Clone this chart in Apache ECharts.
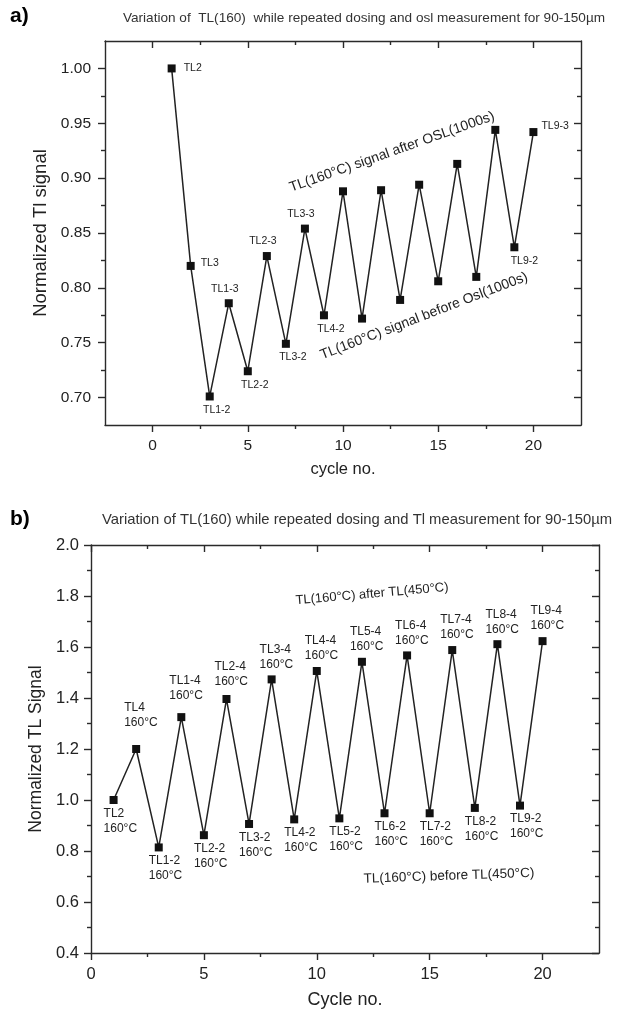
<!DOCTYPE html>
<html>
<head>
<meta charset="utf-8">
<script src="https://cdn.jsdelivr.net/npm/echarts@6/dist/echarts.min.js"></script>
<style>
html,body{margin:0;padding:0;background:#fff;}
#chart{width:638px;height:1013px;}
</style>
</head>
<body>
<div id="chart"></div>
<script>
// ---------- data ----------
const cycles = [1,2,3,4,5,6,7,8,9,10,11,12,13,14,15,16,17,18,19,20];

// panel a) Normalized Tl signal (OSL)
const signalA = [1.000,0.820,0.701,0.786,0.724,0.829,0.749,0.854,0.775,0.888,
                 0.772,0.889,0.789,0.894,0.806,0.913,0.810,0.944,0.837,0.942];
const pointLabelsA = ['TL2','TL3','TL1-2','TL1-3','TL2-2','TL2-3','TL3-2','TL3-3','TL4-2','',
                      '','','','','','','','','TL9-2','TL9-3'];
const xTicksA = [0,5,10,15,20];
const xMinorA = [2.5,7.5,12.5,17.5];
const yTicksA = [0.70,0.75,0.80,0.85,0.90,0.95,1.00];
const yMinorA = [0.725,0.775,0.825,0.875,0.925,0.975];

// panel b) Normalized TL signal (TL 450)
const signalB = [1.000,1.200,0.814,1.325,0.862,1.396,0.906,1.473,0.924,1.506,
                 0.928,1.542,0.948,1.567,0.948,1.588,0.969,1.611,0.978,1.623];
const pointLabelsB = ['TL2','TL4','TL1-2','TL1-4','TL2-2','TL2-4','TL3-2','TL3-4','TL4-2','TL4-4',
                      'TL5-2','TL5-4','TL6-2','TL6-4','TL7-2','TL7-4','TL8-2','TL8-4','TL9-2','TL9-4'];
const tempLabelB = '160°C';
const xTicksB = [0,5,10,15,20];
const xMinorB = [2.5,7.5,12.5,17.5];
const yTicksB = [0.4,0.6,0.8,1.0,1.2,1.4,1.6,1.8,2.0];
const yMinorB = [0.5,0.7,0.9,1.1,1.3,1.5,1.7,1.9];

const titleA = 'Variation of  TL(160)  while repeated dosing and osl measurement for 90-150µm';
const titleB = 'Variation of TL(160) while repeated dosing and Tl measurement for 90-150µm';

// ---------- styling helpers ----------
const FONT = 'Liberation Sans, Arial, sans-serif';
const AX = '#2a2a2a';

function axisGroup(gi, min, max, majors, minors, pos, mirror, fmt, labelSize, margin, name, nameGap, nameSize) {
  const line = {lineStyle:{color:AX, width:1.4}};
  const base = {type:'value', gridIndex:gi, min:min, max:max, splitLine:{show:false}};
  const main = Object.assign({}, base, {
    position:pos,
    axisLine:Object.assign({show:true, onZero:false}, line),
    axisTick:Object.assign({show:true, inside:false, length:7, customValues:majors}, line),
    axisLabel:{show:true, customValues:majors, formatter:fmt, fontSize:labelSize, color:'#222', fontFamily:FONT, margin:margin},
    name:name, nameLocation:'middle', nameGap:nameGap,
    nameTextStyle:{fontSize:nameSize, color:'#222', fontFamily:FONT}
  });
  const minor = Object.assign({}, base, {
    position:pos,
    axisLine:{show:false, onZero:false},
    axisTick:Object.assign({show:true, inside:false, length:4, customValues:minors}, line),
    axisLabel:{show:false}
  });
  const mMain = Object.assign({}, base, {
    position:mirror,
    axisLine:Object.assign({show:true, onZero:false}, line),
    axisTick:Object.assign({show:true, inside:true, length:7, customValues:majors}, line),
    axisLabel:{show:false}
  });
  const mMinor = Object.assign({}, base, {
    position:mirror,
    axisLine:{show:false, onZero:false},
    axisTick:Object.assign({show:true, inside:true, length:4, customValues:minors}, line),
    axisLabel:{show:false}
  });
  return [main, minor, mMain, mMinor];
}

// label placement for panel a
function labelA(i) {
  const base = {show:true, fontSize:10.5, color:'#222', fontFamily:FONT};
  if (i === 0) return Object.assign(base, {position:'right', distance:8});
  if (i === 1) return Object.assign(base, {position:'right', distance:6, offset:[0,-3]});
  if (i === 19) return Object.assign(base, {position:'right', distance:4, offset:[0,-6]});
  if (i === 18) return Object.assign(base, {position:'bottom', distance:4, offset:[10,0]});
  if (i % 2 === 0) return Object.assign(base, {position:'bottom', distance:4, offset:[7,0]});
  return Object.assign(base, {position:'top', distance:5, offset:[-4,0]});
}
// label placement for panel b
function labelB(i) {
  const base = {show:true, fontSize:12, lineHeight:15, color:'#222', fontFamily:FONT, align:'left'};
  if (i % 2 === 0) return Object.assign(base, {position:'bottom', distance:2, offset:[-10,0]});
  const lift = Math.max(3.5, 17 - 2.2 * i);
  return Object.assign(base, {position:'top', distance:lift, offset:[-12,0]});
}

const xA = axisGroup(0, -2.5, 22.5, xTicksA, xMinorA, 'bottom', 'top', v => String(v), 15.5, 13, 'cycle no.', 36, 16.5);
const yA = axisGroup(0, 0.675, 1.025, yTicksA, yMinorA, 'left', 'right', v => v.toFixed(2), 15.5, 14, 'Normalized Tl signal', 53, 18.5);
const xB = axisGroup(1, 0, 22.5, xTicksB, xMinorB, 'bottom', 'top', v => String(v), 16.5, 13, 'Cycle no.', 38, 18);
const yB = axisGroup(1, 0.4, 2.0, yTicksB, yMinorB, 'left', 'right', v => v.toFixed(1), 16.5, 12, 'Normalized TL Signal', 27, 17.5);

const seriesStyle = {
  type:'line', symbol:'rect', symbolSize:8, showSymbol:true,
  itemStyle:{color:'#111'}, lineStyle:{color:'#222', width:1.5}, animation:false, z:3
};

const option = {
  backgroundColor:'#fff',
  animation:false,
  grid:[
    {left:105, top:41, width:476, height:384},
    {left:91, top:545, width:508, height:408}
  ],
  xAxis: xA.concat(xB),
  yAxis: yA.concat(yB),
  series:[
    Object.assign({}, seriesStyle, {
      xAxisIndex:0, yAxisIndex:0,
      data: cycles.map((c,i) => ({value:[c, signalA[i]], label:Object.assign(labelA(i), {formatter: pointLabelsA[i]})}))
    }),
    Object.assign({}, seriesStyle, {
      xAxisIndex:4, yAxisIndex:4,
      data: cycles.map((c,i) => ({value:[c, signalB[i]], label:Object.assign(labelB(i), {formatter: pointLabelsB[i] + '\n' + tempLabelB})}))
    })
  ],
  graphic:[
    {type:'text', left:10, top:6, style:{text:'a)', font:'bold 21px ' + FONT, fill:'#000'}},
    {type:'text', x:364, y:18, style:{text:titleA, fontSize:13.6, fontFamily:FONT, fill:'#333', align:'center', verticalAlign:'middle'}},
    {type:'text', x:392, y:152, rotation:19.5*Math.PI/180, style:{text:'TL(160°C) signal after OSL(1000s)', fontSize:14, fontFamily:FONT, fill:'#222', align:'center', verticalAlign:'middle'}},
    {type:'text', x:424, y:316, rotation:21*Math.PI/180, style:{text:'TL(160°C) signal before Osl(1000s)', fontSize:14, fontFamily:FONT, fill:'#222', align:'center', verticalAlign:'middle'}},
    {type:'text', left:10, top:509, style:{text:'b)', font:'bold 21px ' + FONT, fill:'#000'}},
    {type:'text', x:357, y:520, style:{text:titleB, fontSize:14.8, fontFamily:FONT, fill:'#333', align:'center', verticalAlign:'middle'}},
    {type:'text', x:372, y:594, rotation:5*Math.PI/180, style:{text:'TL(160°C) after TL(450°C)', fontSize:13, fontFamily:FONT, fill:'#222', align:'center', verticalAlign:'middle'}},
    {type:'text', x:449, y:876, rotation:2*Math.PI/180, style:{text:'TL(160°C) before TL(450°C)', fontSize:13.5, fontFamily:FONT, fill:'#222', align:'center', verticalAlign:'middle'}}
  ]
};

const chart = echarts.init(document.getElementById('chart'), null, {renderer:'canvas'});
chart.setOption(option);
</script>
</body>
</html>
